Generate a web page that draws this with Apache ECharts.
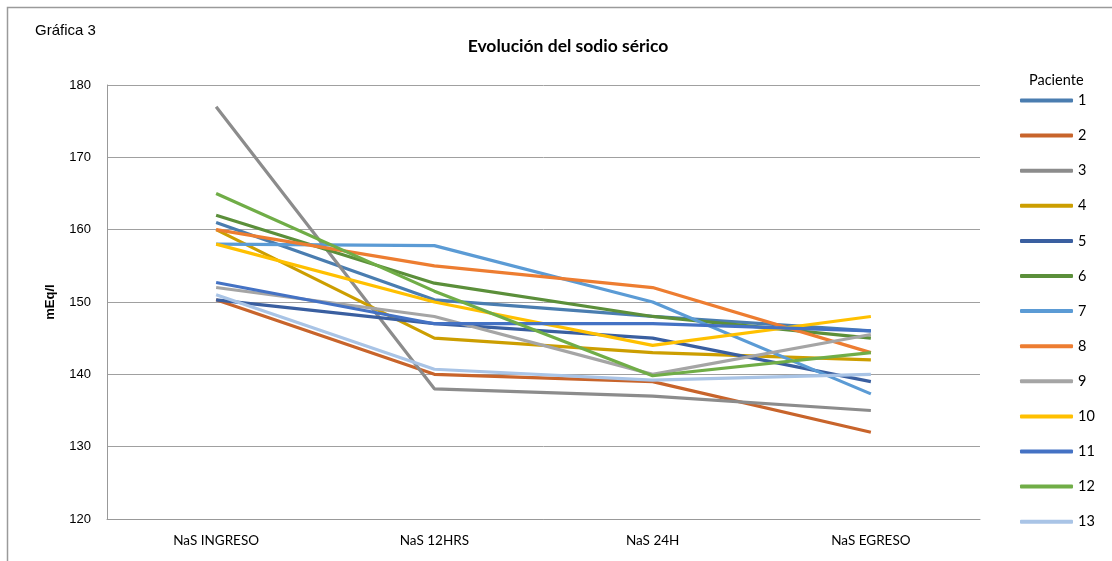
<!DOCTYPE html>
<html>
<head>
<meta charset="utf-8">
<script src="https://cdn.jsdelivr.net/npm/echarts@6/dist/echarts.min.js"></script>
<style>html,body{margin:0;padding:0;background:#fff;}#c{width:1112px;height:561px;}</style>
</head>
<body>
<div id="c"></div>
<script>
var categories = ['NaS INGRESO', 'NaS 12HRS', 'NaS 24H', 'NaS EGRESO'];
var patients = ['1','2','3','4','5','6','7','8','9','10','11','12','13'];
var p1  = [161, 150.3, 148, 146];
var p2  = [150.3, 140, 139, 132];
var p3  = [177, 138, 137, 135];
var p4  = [160, 145, 143, 142];
var p5  = [150.3, 147, 145, 139];
var p6  = [162, 152.6, 148, 145];
var p7  = [158, 157.8, 150, 137.3];
var p8  = [160, 155, 152, 143];
var p9  = [152, 148, 140, 145.5];
var p10 = [158, 150, 144, 148];
var p11 = [152.7, 147, 147, 146];
var p12 = [165, 151.5, 139.8, 143];
var p13 = [151, 140.7, 139.2, 140];
var values = [p1,p2,p3,p4,p5,p6,p7,p8,p9,p10,p11,p12,p13];
var colors = ['#4A7DB0','#C8642B','#8C8C8C','#CC9E00','#3A5FA0','#5B8F3A','#5B9BD5','#ED7D31','#A5A5A5','#FFC000','#4472C4','#70AD47','#A9C4E6'];

var series = patients.map(function(name, i){
  return {
    name: name, type: 'line', data: values[i],
    symbol: 'none', showSymbol: false,
    lineStyle: {width: 3.2, color: colors[i]},
    itemStyle: {color: colors[i]},
    emphasis: {disabled: true}
  };
});

var chart = echarts.init(document.getElementById('c'));
chart.setOption({
  animation: false,
  color: colors,
  graphic: [{
    type: 'rect', silent: true,
    shape: {x: 7.5, y: 7.5, width: 1200, height: 700},
    style: {fill: 'none', stroke: '#9a9a9a', lineWidth: 1.5}
  }, {
    type: 'text', left: 35, top: 23,
    style: {text: 'Gráfica 3', font: '15px "Liberation Sans", Arial, sans-serif', fill: '#000'}
  }, {
    type: 'text', left: 1029, top: 73,
    style: {text: 'Paciente', font: '14.5px Lato, "Noto Sans", sans-serif', fill: '#000'}
  }],
  title: {
    text: 'Evolución del sodio sérico', left: 563, top: 32, textAlign: 'center',
    textStyle: {fontFamily: 'Lato, "Noto Sans", sans-serif', fontWeight: 'bold', fontSize: 17.5, color: '#000'}
  },
  legend: {
    orient: 'vertical', left: 1015, top: 88,
    itemWidth: 53, itemHeight: 4, itemGap: 20.1,
    icon: 'roundRect',
    textStyle: {fontFamily: 'Lato, "Noto Sans", sans-serif', fontSize: 14.5, color: '#000'},
    data: patients
  },
  grid: {left: 107, right: 132, top: 85, bottom: 42, containLabel: false},
  xAxis: {
    type: 'category', data: categories, boundaryGap: true,
    axisLine: {lineStyle: {color: '#999', width: 1}},
    axisTick: {show: false},
    axisLabel: {fontFamily: 'Lato, "Noto Sans", sans-serif', fontSize: 13.5, color: '#000', margin: 15}
  },
  yAxis: {
    type: 'value', min: 120, max: 180, interval: 10,
    name: 'mEq/l', nameLocation: 'middle', nameGap: 50, nameRotate: 90,
    nameTextStyle: {fontFamily: '"Liberation Sans", Arial, sans-serif', fontWeight: 'bold', fontSize: 13, color: '#000'},
    axisLine: {show: true, lineStyle: {color: '#999', width: 1}},
    axisTick: {show: false},
    splitLine: {lineStyle: {color: '#A0A0A0', width: 1}},
    axisLabel: {fontFamily: '"Liberation Sans", Arial, sans-serif', fontSize: 13, color: '#000', margin: 16}
  },
  series: series
});
</script>
</body>
</html>
